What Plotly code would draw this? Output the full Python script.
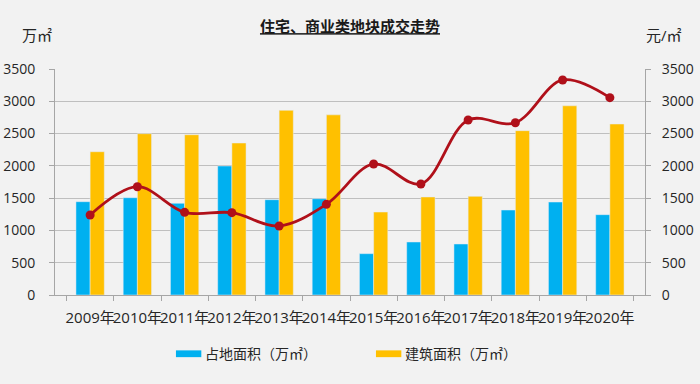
import plotly.graph_objects as go

years = ["2009年", "2010年", "2011年", "2012年", "2013年", "2014年",
         "2015年", "2016年", "2017年", "2018年", "2019年", "2020年"]
land_area = [1445, 1507, 1420, 1998, 1476, 1491, 640, 821, 790, 1316, 1440, 1244]
build_area = [2219, 2498, 2482, 2354, 2860, 2790, 1285, 1518, 1528, 2545, 2930, 2648]
price = [1239, 1677, 1280, 1275, 1069, 1404, 2029, 1719, 2710, 2668, 3330, 3056]
y_ticks = [0, 500, 1000, 1500, 2000, 2500, 3000, 3500]

BLUE = "#00B0F0"
YELLOW = "#FFC000"
RED = "#B0101A"
FONT = "Open Sans, Noto Sans CJK SC, sans-serif"
TXT = "#262626"

fig = go.Figure()
fig.add_trace(go.Bar(x=years, y=land_area, name="占地面积（万㎡）",
                     marker_color=BLUE, showlegend=False))
fig.add_trace(go.Bar(x=years, y=build_area, name="建筑面积（万㎡）",
                     marker_color=YELLOW, showlegend=False))
fig.add_trace(go.Scatter(x=years, y=price, yaxis="y2", mode="lines+markers",
                         line=dict(color=RED, width=2.8, shape="spline", smoothing=1.0),
                         marker=dict(color=RED, size=9), showlegend=False))

fig.update_layout(
    width=700, height=384,
    margin=dict(l=55, r=55, t=69, b=89, autoexpand=False),
    paper_bgcolor="#F2F2F2", plot_bgcolor="#F2F2F2",
    font=dict(family=FONT, size=14, color=TXT),
    barmode="group", bargap=0.4, bargroupgap=0,
    title=dict(text="<b><u>住宅、商业类地块成交走势</u></b>", x=0.5, xanchor="center",
               y=0.93, yanchor="middle", font=dict(size=15, color="#1a1a1a")),
    xaxis=dict(type="category", tickson="boundaries", ticks="outside", ticklen=5,
               tickcolor="#A6A6A6", showline=True, linecolor="#A6A6A6", linewidth=1,
               tickangle=0, tickfont=dict(size=15, color=TXT), showgrid=False,
               automargin=False, ticklabelstandoff=9),
    yaxis=dict(range=[0, 3500], tickvals=y_ticks, showgrid=True, gridcolor="#BFBFBF",
               gridwidth=1, showline=True, linecolor="#A6A6A6", ticks="outside",
               ticklen=5, tickcolor="#A6A6A6", zeroline=False,
               tickfont=dict(size=14, color=TXT), automargin=False,
               ticklabelstandoff=11),
    yaxis2=dict(range=[0, 3500], tickvals=y_ticks, overlaying="y", side="right",
                showgrid=False, showline=True, linecolor="#A6A6A6", ticks="outside",
                ticklen=5, tickcolor="#A6A6A6", zeroline=False,
                tickfont=dict(size=14, color=TXT), automargin=False,
                ticklabelstandoff=8),
    showlegend=False,
)

# unit labels
fig.add_annotation(text="万㎡", xref="paper", yref="paper", x=-0.06, y=1.15,
                   xanchor="left", yanchor="middle", showarrow=False,
                   font=dict(size=15, color=TXT))
fig.add_annotation(text="元/㎡", xref="paper", yref="paper", x=0.998, y=1.15,
                   xanchor="left", yanchor="middle", showarrow=False,
                   font=dict(size=15, color=TXT))

# custom legend
for x0, color, label in [(0.205, BLUE, "占地面积（万㎡）"), (0.544, YELLOW, "建筑面积（万㎡）")]:
    fig.add_shape(type="rect", xref="paper", yref="paper", x0=x0, x1=x0 + 0.043,
                  y0=-0.275, y1=-0.245, fillcolor=color, line=dict(width=0))
    fig.add_annotation(text=label, xref="paper", yref="paper", x=x0 + 0.045, y=-0.26,
                       xanchor="left", yanchor="middle", showarrow=False,
                       font=dict(size=14, color=TXT))

fig.write_html("out.html", config={"displayModeBar": False},
               post_script="document.body.style.margin='0';document.body.style.background='#F2F2F2';")
